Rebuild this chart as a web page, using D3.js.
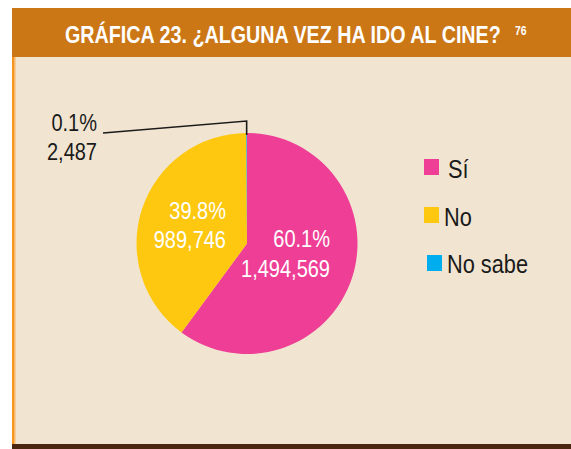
<!DOCTYPE html>
<html>
<head>
<meta charset="utf-8">
<script src="https://cdn.jsdelivr.net/npm/d3@7"></script>
<style>
    body { margin: 0; background: #ffffff; }
    svg { display: block; }
    text { font-family: "Liberation Sans", Arial, sans-serif; }
</style>
</head>
<body>
<script>
// data
const categories = ['Sí', 'No', 'No sabe'];
const counts = [1494569, 989746, 2487];
const percentLabels = ['60.1%', '39.8%', '0.1%'];
const sliceColors = ['#ee3e96', '#fec811', '#00aeef'];

const width = 571, height = 449;
const narrow = 0.87; // squeeze the regular font to look like a condensed face

const svg = d3.select('body').append('svg')
    .attr('width', width)
    .attr('height', height);

// condensed text helper: draws at (x, y) squeezed horizontally around the anchor
function label(parent, x, y, str, size, color, anchor, weight, k) {
    return parent.append('text')
        .attr('transform', `translate(${x},${y}) scale(${k || narrow},1)`)
        .attr('text-anchor', anchor || 'start')
        .attr('font-size', size)
        .attr('font-weight', weight || 'normal')
        .attr('fill', color)
        .text(str);
}

// panel background and frame
svg.append('rect')
    .attr('x', 12).attr('y', 57)
    .attr('width', width - 12).attr('height', 387)
    .attr('fill', '#f1e5d1');
svg.append('rect')
    .attr('x', 12).attr('y', 57)
    .attr('width', 2.5).attr('height', 387)
    .attr('fill', '#f7941d');
svg.append('rect')
    .attr('x', 14.5).attr('y', 57)
    .attr('width', 1).attr('height', 387)
    .attr('fill', '#f9b466');
svg.append('rect')
    .attr('x', 12).attr('y', 444)
    .attr('width', width - 12).attr('height', 5)
    .attr('fill', '#4a2510');

// header
svg.append('rect')
    .attr('x', 12).attr('y', 8)
    .attr('width', width - 12).attr('height', 49)
    .attr('fill', '#cc7716');
const title = label(svg, 65, 43, 'GRÁFICA 23. ¿ALGUNA VEZ HA IDO AL CINE?', 24, '#ffffff', 'start', 'bold', 1);
const titleLen = title.node().getComputedTextLength();
title.attr('transform', `translate(65,43) scale(${436 / titleLen},1)`);
label(svg, 515, 35, '76', 13, '#ffffff', 'start', 'bold', 0.8);

// pie
const cx = 247, cy = 243.5, radius = 110.5;
const pie = d3.pie().sort(null).value(d => d);
const arcs = pie(counts);
const arc = d3.arc().innerRadius(0).outerRadius(radius);

const g = svg.append('g').attr('transform', `translate(${cx},${cy})`);
g.selectAll('path')
    .data(arcs)
    .enter().append('path')
    .attr('d', arc)
    .attr('fill', (d, i) => sliceColors[i]);

const fmt = d3.format(',');

// labels inside the two large slices (right aligned)
const inside = [
    { i: 0, x: 330, y1: 247, y2: 277 },
    { i: 1, x: 226, y1: 219, y2: 248 }
];
inside.forEach(l => {
    label(svg, l.x, l.y1, percentLabels[l.i], 23, '#ffffff', 'end');
    label(svg, l.x, l.y2, fmt(counts[l.i]), 23, '#ffffff', 'end');
});

// leader line to the small slice
const small = arcs[2];
const mid = (small.startAngle + small.endAngle) / 2;
const ox = cx + radius * Math.sin(mid), oy = cy - radius * Math.cos(mid);
svg.append('path')
    .attr('d', `M${ox},${oy + 2}L${ox},121L103,133`)
    .attr('fill', 'none')
    .attr('stroke', '#1a1a1a')
    .attr('stroke-width', 1.6);
label(svg, 97, 131, percentLabels[2], 23, '#1a1a1a', 'end');
label(svg, 97, 160, fmt(counts[2]), 23, '#1a1a1a', 'end');

// legend
const legendPos = [
    { sx: 424, sy: 159, tx: 448, ty: 178 },
    { sx: 424, sy: 207, tx: 444, ty: 226 },
    { sx: 427, sy: 255, tx: 447, ty: 273 }
];
const legend = svg.append('g');
categories.forEach((c, i) => {
    legend.append('rect')
        .attr('x', legendPos[i].sx)
        .attr('y', legendPos[i].sy)
        .attr('width', 15).attr('height', 16)
        .attr('fill', sliceColors[i]);
    label(legend, legendPos[i].tx, legendPos[i].ty, c, 25, '#1a1a1a', 'start');
});
</script>
</body>
</html>
